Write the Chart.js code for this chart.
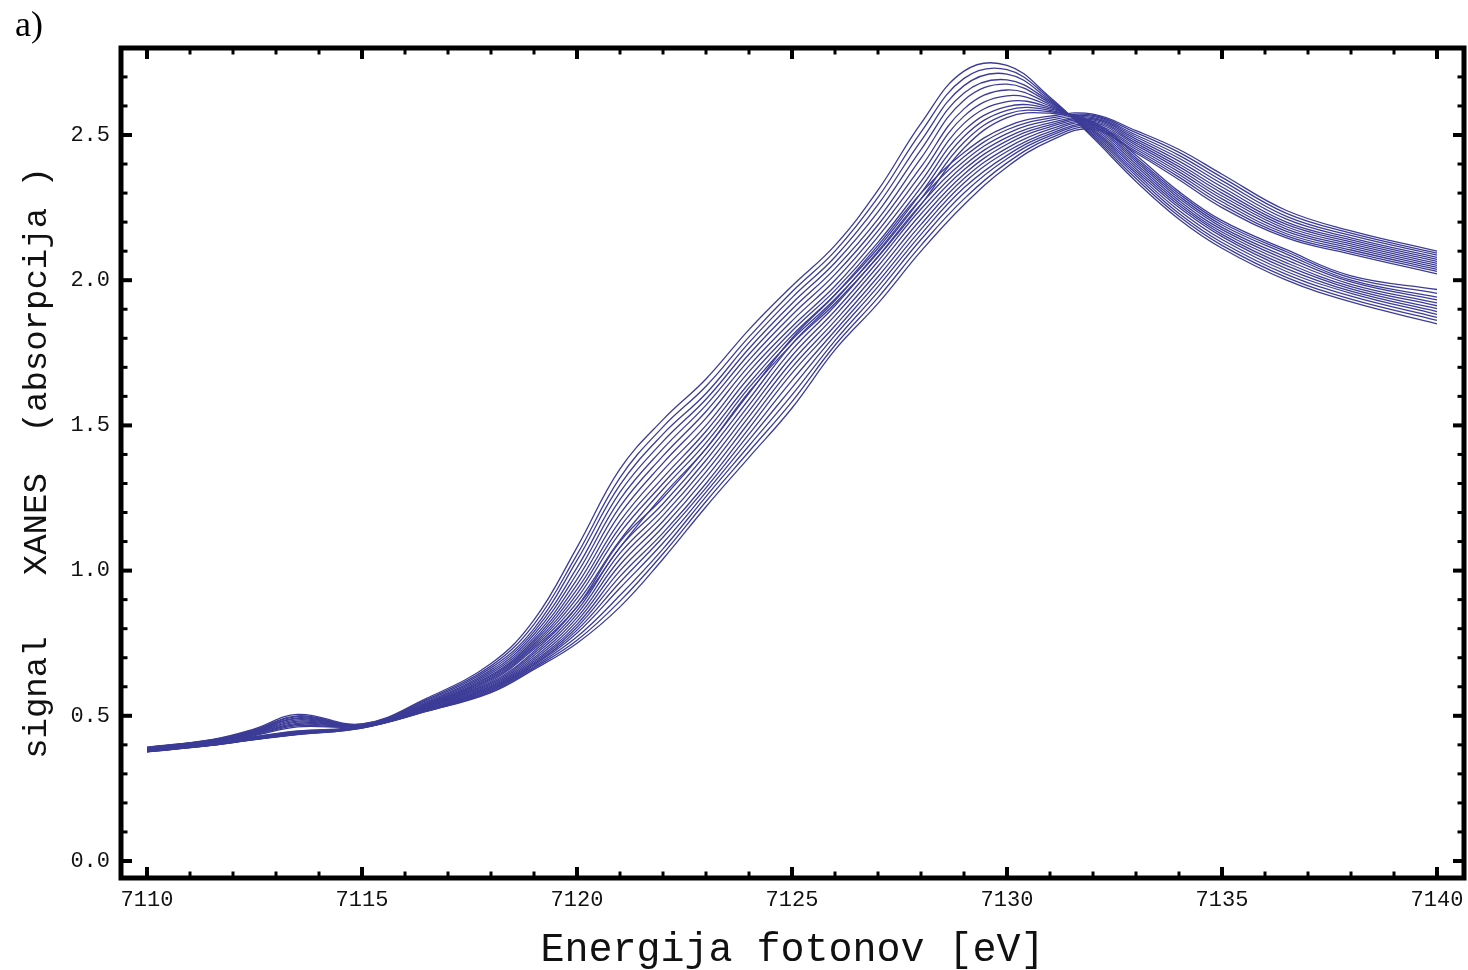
<!DOCTYPE html>
<html>
<head>
<meta charset="utf-8">
<script src="https://cdn.jsdelivr.net/npm/chart.js@4/dist/chart.umd.min.js"></script>
<style>
    html, body { margin: 0; padding: 0; background: #fff; overflow: hidden; }
    #wrap { position: relative; width: 1468px; height: 970px; }
    #panel { position: absolute; left: 15px; top: 6px; font: 36px "Liberation Serif", serif; line-height: 36px; color: #000; }
</style>
</head>
<body>
<div id="wrap">
    <canvas id="xanesChart"></canvas>
    <div id="panel">a)</div>
</div>
<script>
// photon energy grid (eV)
const energies = [7110, 7111.5, 7112.5, 7113.5, 7115, 7116.5, 7118, 7119, 7120, 7121, 7122, 7123, 7124, 7125, 7126, 7127, 7128, 7129, 7130, 7131, 7132, 7133, 7134, 7135, 7136.5, 7138, 7140];

// early-edge spectra, high white line
const specA01 = [0.392, 0.418, 0.455, 0.505, 0.472, 0.560, 0.680, 0.830, 1.080, 1.350, 1.520, 1.660, 1.830, 1.980, 2.120, 2.310, 2.540, 2.720, 2.740, 2.630, 2.490, 2.340, 2.210, 2.110, 2.000, 1.925, 1.850];
const specA02 = [0.391, 0.417, 0.452, 0.500, 0.471, 0.556, 0.672, 0.815, 1.055, 1.320, 1.495, 1.635, 1.805, 1.960, 2.100, 2.285, 2.510, 2.695, 2.725, 2.625, 2.495, 2.350, 2.220, 2.120, 2.010, 1.935, 1.862];
const specA03 = [0.390, 0.416, 0.450, 0.497, 0.470, 0.552, 0.665, 0.800, 1.035, 1.295, 1.470, 1.610, 1.785, 1.940, 2.080, 2.260, 2.480, 2.670, 2.710, 2.620, 2.500, 2.360, 2.230, 2.130, 2.020, 1.945, 1.872];
const specA04 = [0.389, 0.415, 0.448, 0.493, 0.469, 0.548, 0.658, 0.790, 1.010, 1.270, 1.445, 1.590, 1.765, 1.920, 2.060, 2.235, 2.450, 2.645, 2.690, 2.615, 2.505, 2.368, 2.240, 2.140, 2.030, 1.955, 1.882];
const specA05 = [0.388, 0.414, 0.446, 0.490, 0.468, 0.545, 0.652, 0.780, 0.990, 1.245, 1.420, 1.570, 1.745, 1.900, 2.040, 2.210, 2.420, 2.620, 2.675, 2.610, 2.510, 2.376, 2.250, 2.150, 2.040, 1.962, 1.892];
const specA06 = [0.388, 0.413, 0.444, 0.486, 0.468, 0.542, 0.646, 0.770, 0.970, 1.220, 1.395, 1.548, 1.725, 1.880, 2.020, 2.190, 2.390, 2.590, 2.655, 2.605, 2.515, 2.384, 2.258, 2.158, 2.050, 1.970, 1.902];
const specA07 = [0.387, 0.412, 0.442, 0.482, 0.467, 0.540, 0.640, 0.762, 0.952, 1.195, 1.370, 1.525, 1.705, 1.860, 2.000, 2.170, 2.365, 2.565, 2.635, 2.600, 2.520, 2.392, 2.266, 2.166, 2.060, 1.978, 1.912];
const specA08 = [0.386, 0.411, 0.440, 0.478, 0.467, 0.538, 0.636, 0.755, 0.935, 1.170, 1.345, 1.500, 1.685, 1.840, 1.980, 2.150, 2.340, 2.540, 2.615, 2.595, 2.525, 2.400, 2.274, 2.174, 2.070, 1.986, 1.922];
const specA09 = [0.386, 0.410, 0.438, 0.474, 0.466, 0.536, 0.632, 0.748, 0.920, 1.150, 1.320, 1.480, 1.665, 1.825, 1.965, 2.130, 2.320, 2.515, 2.598, 2.590, 2.530, 2.408, 2.282, 2.182, 2.080, 1.994, 1.932];
const specA10 = [0.385, 0.409, 0.436, 0.470, 0.466, 0.534, 0.628, 0.742, 0.905, 1.130, 1.300, 1.460, 1.645, 1.810, 1.950, 2.110, 2.300, 2.495, 2.585, 2.585, 2.535, 2.415, 2.290, 2.190, 2.090, 2.000, 1.942];
const specA11 = [0.385, 0.408, 0.434, 0.466, 0.465, 0.532, 0.624, 0.736, 0.890, 1.105, 1.280, 1.440, 1.630, 1.795, 1.935, 2.095, 2.280, 2.475, 2.572, 2.580, 2.540, 2.422, 2.298, 2.198, 2.098, 2.008, 1.955];
const specA12 = [0.384, 0.407, 0.432, 0.462, 0.465, 0.530, 0.620, 0.730, 0.875, 1.080, 1.260, 1.420, 1.615, 1.780, 1.920, 2.080, 2.260, 2.455, 2.560, 2.575, 2.545, 2.430, 2.305, 2.205, 2.105, 2.015, 1.968];

// late-edge spectra, broader maximum
const specB01 = [0.382, 0.404, 0.428, 0.448, 0.464, 0.532, 0.615, 0.722, 0.875, 1.100, 1.250, 1.420, 1.610, 1.800, 1.950, 2.120, 2.300, 2.440, 2.530, 2.565, 2.572, 2.515, 2.450, 2.365, 2.240, 2.170, 2.100];
const specB02 = [0.381, 0.403, 0.427, 0.446, 0.463, 0.530, 0.611, 0.715, 0.862, 1.080, 1.230, 1.400, 1.590, 1.780, 1.930, 2.100, 2.280, 2.425, 2.518, 2.558, 2.568, 2.508, 2.440, 2.354, 2.230, 2.162, 2.093];
const specB03 = [0.381, 0.402, 0.426, 0.445, 0.462, 0.528, 0.607, 0.708, 0.850, 1.060, 1.210, 1.380, 1.570, 1.760, 1.912, 2.082, 2.262, 2.410, 2.505, 2.550, 2.564, 2.500, 2.430, 2.343, 2.220, 2.154, 2.086];
const specB04 = [0.380, 0.402, 0.425, 0.444, 0.462, 0.526, 0.603, 0.700, 0.838, 1.040, 1.190, 1.360, 1.550, 1.740, 1.895, 2.065, 2.245, 2.395, 2.492, 2.542, 2.560, 2.493, 2.420, 2.332, 2.210, 2.146, 2.079];
const specB05 = [0.380, 0.401, 0.424, 0.443, 0.461, 0.524, 0.600, 0.694, 0.826, 1.020, 1.170, 1.340, 1.530, 1.720, 1.878, 2.048, 2.228, 2.380, 2.480, 2.535, 2.556, 2.486, 2.410, 2.321, 2.200, 2.139, 2.072];
const specB06 = [0.379, 0.401, 0.423, 0.442, 0.461, 0.522, 0.597, 0.688, 0.815, 1.000, 1.150, 1.320, 1.510, 1.700, 1.860, 2.030, 2.210, 2.365, 2.468, 2.528, 2.552, 2.479, 2.400, 2.310, 2.192, 2.132, 2.065];
const specB07 = [0.378, 0.400, 0.422, 0.440, 0.460, 0.520, 0.594, 0.683, 0.805, 0.980, 1.130, 1.300, 1.490, 1.680, 1.843, 2.012, 2.192, 2.350, 2.455, 2.520, 2.548, 2.472, 2.391, 2.300, 2.184, 2.125, 2.058];
const specB08 = [0.378, 0.400, 0.421, 0.439, 0.460, 0.519, 0.591, 0.678, 0.795, 0.960, 1.115, 1.285, 1.470, 1.655, 1.826, 1.995, 2.175, 2.335, 2.443, 2.512, 2.543, 2.465, 2.382, 2.290, 2.176, 2.118, 2.051];
const specB09 = [0.377, 0.399, 0.420, 0.438, 0.459, 0.518, 0.588, 0.674, 0.785, 0.940, 1.095, 1.270, 1.450, 1.630, 1.810, 1.978, 2.158, 2.318, 2.430, 2.504, 2.537, 2.458, 2.373, 2.280, 2.168, 2.111, 2.044];
const specB10 = [0.377, 0.399, 0.419, 0.437, 0.459, 0.517, 0.585, 0.669, 0.772, 0.915, 1.075, 1.255, 1.430, 1.605, 1.792, 1.960, 2.140, 2.300, 2.418, 2.497, 2.532, 2.451, 2.364, 2.270, 2.160, 2.104, 2.037];
const specB11 = [0.376, 0.398, 0.418, 0.436, 0.458, 0.516, 0.582, 0.665, 0.760, 0.895, 1.058, 1.238, 1.410, 1.582, 1.776, 1.940, 2.120, 2.280, 2.404, 2.489, 2.526, 2.444, 2.355, 2.260, 2.153, 2.097, 2.030];
const specB12 = [0.376, 0.398, 0.418, 0.435, 0.458, 0.515, 0.580, 0.660, 0.750, 0.875, 1.040, 1.220, 1.390, 1.560, 1.760, 1.920, 2.100, 2.260, 2.390, 2.480, 2.520, 2.438, 2.346, 2.250, 2.146, 2.090, 2.022];

const spectra = [specA01, specA02, specA03, specA04, specA05, specA06, specA07, specA08, specA09, specA10, specA11, specA12,
    specB01, specB02, specB03, specB04, specB05, specB06, specB07, specB08, specB09, specB10, specB11, specB12];

// axis ticks
const xTickValues = [7110, 7115, 7120, 7125, 7130, 7135, 7140];
const yTickValues = [0.0, 0.5, 1.0, 1.5, 2.0, 2.5];
const xMinorValues = Array.from({ length: 31 }, (_, i) => 7110 + i);
const yMinorValues = Array.from({ length: 28 }, (_, i) => +(i * 0.1).toFixed(1));

const lineColor = '#3c3c98';
const monoFont = '"Liberation Mono", "Courier New", monospace';

// frame with inward ticks on all four sides
const framePlugin = {
    id: 'frame',
    afterDatasetsDraw(chart) {
        const { ctx, chartArea: area, scales: { x, y } } = chart;
        ctx.save();
        ctx.strokeStyle = '#000';
        ctx.lineCap = 'butt';
        const mark = (x1, y1, x2, y2, width) => {
            ctx.lineWidth = width;
            ctx.beginPath();
            ctx.moveTo(x1, y1);
            ctx.lineTo(x2, y2);
            ctx.stroke();
        };
        xMinorValues.forEach(v => {
            const px = x.getPixelForValue(v);
            const major = v % 5 === 0;
            const len = major ? 11 : 6.5;
            const w = major ? 4 : 3;
            mark(px, area.bottom, px, area.bottom - len, w);
            mark(px, area.top, px, area.top + len, w);
        });
        yMinorValues.forEach(v => {
            const py = y.getPixelForValue(v);
            const major = Math.round(v * 10) % 5 === 0;
            const len = major ? 11 : 6.5;
            const w = major ? 4 : 3;
            mark(area.left, py, area.left + len, py, w);
            mark(area.right, py, area.right - len, py, w);
        });
        ctx.lineWidth = 5;
        ctx.strokeRect(area.left, area.top, area.right - area.left, area.bottom - area.top);
        ctx.restore();
    }
};

new Chart(document.getElementById('xanesChart'), {
    type: 'line',
    data: {
        datasets: spectra.map(values => ({
            data: values.map((v, i) => ({ x: energies[i], y: v })),
            borderColor: lineColor,
            borderWidth: 1.3,
            pointRadius: 0,
            fill: false,
            tension: 0.4
        }))
    },
    options: {
        responsive: true,
        maintainAspectRatio: false,
        animation: false,
        layout: { padding: { top: 48, right: 4, bottom: 0, left: 0 } },
        plugins: { legend: { display: false }, tooltip: { enabled: false } },
        scales: {
            x: {
                type: 'linear',
                min: 7109.3953,
                max: 7140.6279,
                grid: { display: false, drawTicks: false },
                border: { display: false },
                afterBuildTicks: axis => { axis.ticks = xTickValues.map(v => ({ value: v })); },
                afterFit: axis => { axis.height = 92; axis.paddingLeft = 0; axis.paddingRight = 0; },
                ticks: {
                    autoSkip: false,
                    maxRotation: 0,
                    padding: 9,
                    color: '#111',
                    font: { family: monoFont, size: 22 },
                    callback: v => String(v)
                },
                title: {
                    display: true,
                    text: 'Energija fotonov [eV]',
                    color: '#111',
                    font: { family: monoFont, size: 40, lineHeight: 1 },
                    padding: { top: 0, bottom: 0 }
                }
            },
            y: {
                type: 'linear',
                min: -0.05854,
                max: 2.79959,
                grid: { display: false, drawTicks: false },
                border: { display: false },
                afterBuildTicks: axis => { axis.ticks = yTickValues.map(v => ({ value: v })); },
                afterFit: axis => { axis.width = 121; axis.paddingTop = 0; axis.paddingBottom = 0; },
                ticks: {
                    autoSkip: false,
                    padding: 11,
                    color: '#111',
                    font: { family: monoFont, size: 22 },
                    callback: v => Number(v).toFixed(1)
                },
                title: {
                    display: true,
                    text: 'signal   XANES  (absorpcija )',
                    color: '#111',
                    font: { family: monoFont, size: 34, lineHeight: 1 },
                    padding: { top: 20, bottom: 0 }
                }
            }
        }
    },
    plugins: [framePlugin]
});
</script>
</body>
</html>
